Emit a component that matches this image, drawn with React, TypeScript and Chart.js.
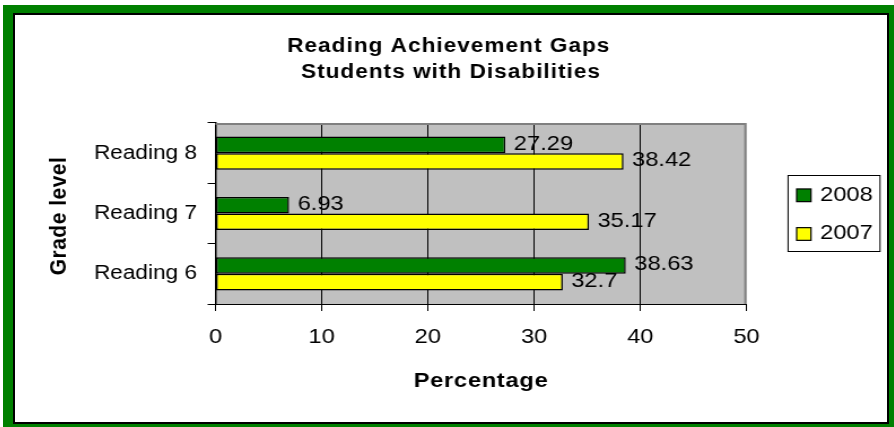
import { useEffect, useRef } from 'react';
import { Chart, registerables } from 'chart.js';

Chart.register(...registerables);

// ---- data ----
const categories = ['Reading 8', 'Reading 7', 'Reading 6'];
const seriesLabels = ['2008', '2007'];
const values2008 = [27.29, 6.93, 38.63];
const values2007 = [38.42, 35.17, 32.7];
const xTickValues = [0, 10, 20, 30, 40, 50];
const titleLines = ['Reading Achievement Gaps', 'Students with Disabilities'];
const xAxisTitle = 'Percentage';
const yAxisTitle = 'Grade level';

const seriesColors = ['#008000', '#FFFF00'];
const FONT = 'Arial, "Liberation Sans", sans-serif';
// internal canvas size; displayed stretched horizontally to 872x407
const W = 772;
const H = 407;

const decor = {
  id: 'decor',
  beforeDraw(chart: any) {
    const { ctx, chartArea: a } = chart;
    ctx.save();
    ctx.fillStyle = '#FFFFFF';
    ctx.fillRect(0, 0, chart.width, chart.height);
    ctx.fillStyle = '#C0C0C0';
    ctx.fillRect(a.left, a.top, a.right - a.left, a.bottom - a.top);
    ctx.restore();
  },
  afterDatasetsDraw(chart: any) {
    const { ctx } = chart;
    ctx.save();
    ctx.font = `21px ${FONT}`;
    ctx.fillStyle = '#000';
    ctx.textAlign = 'left';
    ctx.textBaseline = 'middle';
    chart.data.datasets.forEach((ds: any, i: number) => {
      const meta = chart.getDatasetMeta(i);
      meta.data.forEach((bar: any, j: number) => {
        ctx.fillText(String(ds.data[j]), bar.x + 7.5, bar.y - 1);
      });
    });
    ctx.restore();
  },
  afterDraw(chart: any) {
    const { ctx, chartArea: a } = chart;
    ctx.save();
    // plot area top/right border
    ctx.strokeStyle = '#808080';
    ctx.lineWidth = 2;
    ctx.beginPath();
    ctx.moveTo(a.left, a.top + 1);
    ctx.lineTo(a.right - 1, a.top + 1);
    ctx.lineTo(a.right - 1, a.bottom);
    ctx.stroke();

    // chart title
    ctx.fillStyle = '#000';
    ctx.textAlign = 'center';
    ctx.textBaseline = 'alphabetic';
    ctx.font = `bold 20px ${FONT}`;
    ctx.letterSpacing = '0.9px';
    ctx.fillText(titleLines[0], 384, 37);
    ctx.fillText(titleLines[1], 386, 63);

    // x axis title
    ctx.font = `bold 21px ${FONT}`;
    ctx.letterSpacing = '0.6px';
    ctx.fillText(xAxisTitle, (a.left + a.right) / 2, 372);

    // y axis title
    ctx.save();
    ctx.translate(39, 201);
    ctx.rotate(-Math.PI / 2);
    ctx.textBaseline = 'middle';
    ctx.letterSpacing = '0.5px';
    ctx.fillText(yAxisTitle, 0, 0);
    ctx.restore();
    ctx.letterSpacing = '0px';

    // legend
    const lx = 684.4, ly = 160, lw = 81.4, lh = 76;
    ctx.strokeStyle = '#000';
    ctx.lineWidth = 1;
    ctx.strokeRect(lx, ly + 0.5, lw, lh);
    const rows = [180.3, 219];
    chart.data.datasets.forEach((ds: any, i: number) => {
      const cy = rows[i];
      ctx.fillStyle = ds.backgroundColor;
      ctx.fillRect(692, cy - 6.35, 12.7, 12.7);
      ctx.strokeStyle = '#000';
      ctx.lineWidth = 1.2;
      ctx.strokeRect(692, cy - 6.35, 12.7, 12.7);
      ctx.fillStyle = '#000';
      ctx.font = `21px ${FONT}`;
      ctx.textAlign = 'left';
      ctx.textBaseline = 'middle';
      ctx.fillText(ds.label, 712.7, cy - 0.5);
    });
    ctx.restore();
  },
};

export default function App() {
  const ref = useRef<HTMLCanvasElement>(null);

  useEffect(() => {
    const canvas = ref.current;
    if (!canvas) return;
    const chart = new Chart(canvas, {
      type: 'bar',
      data: {
        labels: categories,
        datasets: [
          {
            label: seriesLabels[0],
            data: values2008,
            backgroundColor: seriesColors[0],
            borderColor: '#000',
            borderWidth: 1.5,
            borderSkipped: false,
          },
          {
            label: seriesLabels[1],
            data: values2007,
            backgroundColor: seriesColors[1],
            borderColor: '#000',
            borderWidth: 1.5,
            borderSkipped: false,
          },
        ],
      },
      options: {
        indexAxis: 'y',
        responsive: false,
        animation: false,
        events: [],
        datasets: { bar: { categoryPercentage: 0.55, barPercentage: 1 } },
        layout: { padding: { top: 108, right: 124.4, bottom: 0, left: 0 } },
        plugins: {
          legend: { display: false },
          title: { display: false },
          tooltip: { enabled: false },
        },
        scales: {
          x: {
            type: 'linear',
            min: 0,
            max: 50,
            afterBuildTicks: (s: any) => {
              s.ticks = xTickValues.map((v) => ({ value: v }));
            },
            ticks: { font: { family: FONT, size: 21 }, color: '#000', padding: 14 },
            grid: {
              color: (c: any) => (c.tick && c.tick.value === 50 ? 'rgba(0,0,0,0)' : '#000'),
              tickColor: '#000',
              tickLength: 7,
              lineWidth: 1,
            },
            border: { color: '#000', width: 1 },
            afterFit: (s: any) => {
              s.height = 118;
            },
          },
          y: {
            type: 'category',
            offset: true,
            ticks: { font: { family: FONT, size: 20 }, color: '#000', padding: 9.4 },
            grid: { offset: true, drawOnChartArea: false, tickColor: '#000', tickLength: 7 },
            border: { color: '#000', width: 1.5 },
            afterFit: (s: any) => {
              s.width = 177.5;
            },
          },
        },
      },
      plugins: [decor],
    } as any);
    return () => chart.destroy();
  }, []);

  return (
    <div
      style={{
        position: 'absolute',
        left: 3,
        top: 5,
        width: 891,
        height: 422,
        background: '#008000',
      }}
    >
      <div
        style={{
          position: 'absolute',
          left: 10,
          top: 8,
          width: 872,
          height: 407,
          border: '2px solid #000',
          background: '#fff',
        }}
      >
        <canvas
          ref={ref}
          width={W}
          height={H}
          style={{ display: 'block', width: '872px', height: '407px' }}
        />
      </div>
    </div>
  );
}
